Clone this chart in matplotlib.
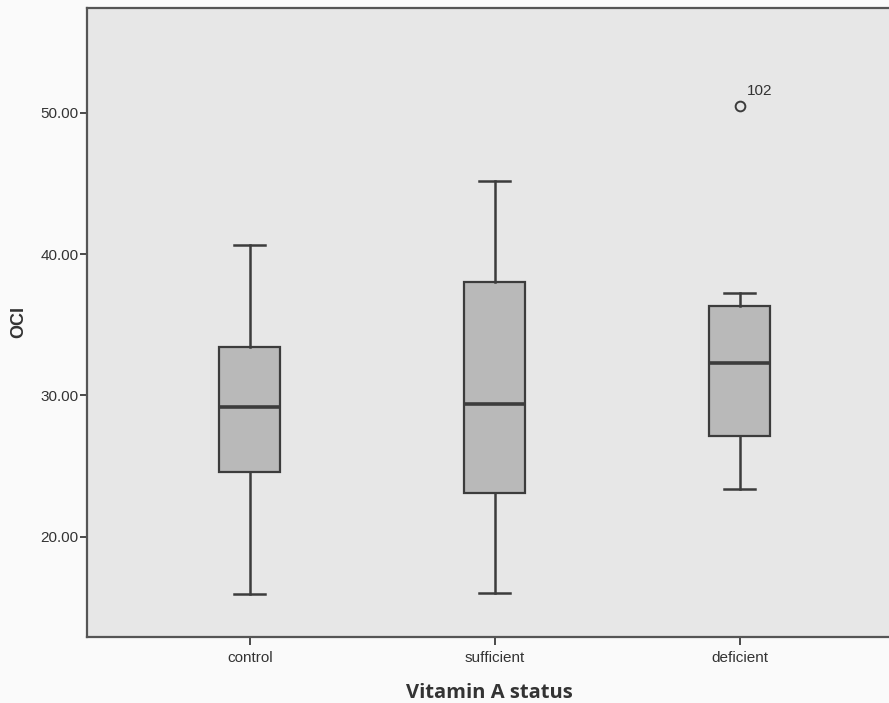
import matplotlib
matplotlib.use('Agg')
import matplotlib.pyplot as plt

groups = ['control', 'sufficient', 'deficient']
whisker_low = [15.95, 16.0, 23.4]
q1 = [24.6, 23.1, 27.1]
median = [29.2, 29.4, 32.3]
q3 = [33.4, 38.0, 36.3]
whisker_high = [40.65, 45.2, 37.25]
outliers = [[], [], [50.5]]
outlier_ids = [[], [], ['102']]

line_col = '#3c3c3c'

stats = []
for i, g in enumerate(groups):
    stats.append({'label': g, 'whislo': whisker_low[i], 'q1': q1[i], 'med': median[i],
                  'q3': q3[i], 'whishi': whisker_high[i], 'fliers': outliers[i]})

fig = plt.figure(figsize=(8.89, 7.03), dpi=100, facecolor='#fafafa')
ax = fig.add_axes([0.098, 0.094, 0.905, 0.895])
ax.set_facecolor('#e7e7e7')

ax.bxp(stats, positions=range(len(groups)), widths=0.25, patch_artist=True,
       boxprops=dict(facecolor='#b9b9b9', edgecolor=line_col, linewidth=1.6),
       medianprops=dict(color=line_col, linewidth=2.6),
       whiskerprops=dict(color=line_col, linewidth=1.8),
       capprops=dict(color=line_col, linewidth=1.8),
       capwidths=0.125,
       flierprops=dict(marker='o', markerfacecolor='none', markeredgecolor=line_col,
                       markersize=7, markeredgewidth=1.4))

for i, ids in enumerate(outlier_ids):
    for v, lab in zip(outliers[i], ids):
        ax.annotate(lab, (i, v), xytext=(5, 8), textcoords='offset points',
                    fontsize=11, color='#333333', family='Liberation Sans')

ax.set_xlim(-0.664, 2.62)
ax.set_ylim(12.92, 57.43)
ax.set_yticks([20, 30, 40, 50])
ax.set_yticklabels(['20.00', '30.00', '40.00', '50.00'])
ax.set_xticks(range(len(groups)))
ax.set_xticklabels(groups)

for lab in ax.get_xticklabels() + ax.get_yticklabels():
    lab.set_family('Liberation Sans')
    lab.set_fontsize(11)
    lab.set_color('#333333')

ax.tick_params(axis='y', length=5, width=1.3, color=line_col, pad=1)
ax.tick_params(axis='x', length=6, width=1.3, color=line_col, pad=4)

for s in ['left', 'bottom', 'top']:
    ax.spines[s].set_color('#555555')
    ax.spines[s].set_linewidth(1.6)
ax.spines['right'].set_visible(False)

ax.set_ylabel('OCI', fontsize=13, fontweight='bold', family='Liberation Sans',
              color='#333333', labelpad=10)
ax.set_xlabel('Vitamin A status', fontsize=14.5, fontweight='bold', family='Open Sans',
              color='#333333', labelpad=13)

fig.savefig('out.png', dpi=100, facecolor=fig.get_facecolor())
